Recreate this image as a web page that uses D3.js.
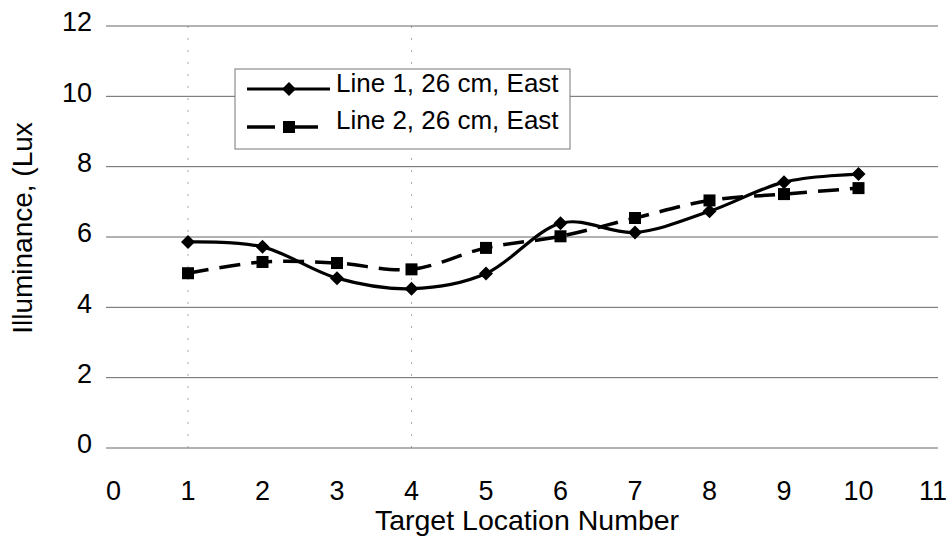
<!DOCTYPE html>
<html>
<head>
<meta charset="utf-8">
<script src="https://cdn.jsdelivr.net/npm/d3@7"></script>
<style>
  html, body { margin: 0; padding: 0; background: #fff; }
  svg { display: block; font-family: "Liberation Sans", Arial, sans-serif; }
</style>
</head>
<body>
<svg id="chart" width="948" height="552"></svg>
<script>
const targets = [1, 2, 3, 4, 5, 6, 7, 8, 9, 10];
const line1 = [5.86, 5.72, 4.83, 4.53, 4.96, 6.39, 6.13, 6.73, 7.56, 7.79];
const line2 = [4.97, 5.29, 5.26, 5.08, 5.69, 6.02, 6.54, 7.04, 7.22, 7.39];
const seriesNames = ["Line 1, 26 cm, East", "Line 2, 26 cm, East"];
const xTicks = [0, 1, 2, 3, 4, 5, 6, 7, 8, 9, 10, 11];
const yTicks = [0, 2, 4, 6, 8, 10, 12];
const faintVerticals = [1, 4];
const xTitle = "Target Location Number";
const yTitle = "Illuminance, (Lux";

const svg = d3.select("#chart");
const x = d3.scaleLinear().domain([0, 11]).range([113.5, 933]);
const y = d3.scaleLinear().domain([0, 12]).range([448, 26]);
const plotLeft = 106, plotRight = 938;

// faint vertical dotted lines
svg.append("g").selectAll("line").data(faintVerticals).join("line")
  .attr("x1", d => x(d)).attr("x2", d => x(d))
  .attr("y1", y(12)).attr("y2", y(0))
  .attr("stroke", "#aaa").attr("stroke-width", 1)
  .attr("stroke-dasharray", "2,10");

// horizontal gridlines
svg.append("g").selectAll("line").data(yTicks).join("line")
  .attr("x1", plotLeft).attr("x2", plotRight)
  .attr("y1", d => y(d)).attr("y2", d => y(d))
  .attr("stroke", "#666").attr("stroke-width", 1);

// y tick labels
svg.append("g").selectAll("text").data(yTicks).join("text")
  .attr("x", 92).attr("y", d => y(d) - 4)
  .attr("dy", "0.35em").attr("text-anchor", "end")
  .attr("font-size", 27).attr("fill", "#000")
  .text(d => d);

// x tick labels
svg.append("g").selectAll("text").data(xTicks).join("text")
  .attr("x", d => x(d)).attr("y", 491)
  .attr("dy", "0.35em").attr("text-anchor", "middle")
  .attr("font-size", 27).attr("fill", "#000")
  .text(d => d);

// titles
svg.append("text").attr("x", 527).attr("y", 530)
  .attr("text-anchor", "middle").attr("font-size", 28.5).text(xTitle);
svg.append("text")
  .attr("transform", `translate(32,228) rotate(-90)`)
  .attr("text-anchor", "middle").attr("font-size", 28).text(yTitle);

const curve = d3.curveCardinal.tension(0);
const mk = vals => d3.line().curve(curve)
  .x((d, i) => x(targets[i])).y(d => y(d))(vals);

// Line 2 (dashed, squares)
svg.append("path").attr("d", mk(line2))
  .attr("fill", "none").attr("stroke", "#000").attr("stroke-width", 3.5)
  .attr("stroke-dasharray", "21,11");
// Line 1 (solid, diamonds)
svg.append("path").attr("d", mk(line1))
  .attr("fill", "none").attr("stroke", "#000").attr("stroke-width", 3.2);

const sq = 12, dm = 7;
svg.append("g").selectAll("rect").data(line2).join("rect")
  .attr("x", (d, i) => x(targets[i]) - sq / 2)
  .attr("y", d => y(d) - sq / 2)
  .attr("width", sq).attr("height", sq).attr("fill", "#000");
const diamond = (cx, cy) => `M${cx},${cy - dm}L${cx + dm},${cy}L${cx},${cy + dm}L${cx - dm},${cy}Z`;
svg.append("g").selectAll("path").data(line1).join("path")
  .attr("d", (d, i) => diamond(x(targets[i]), y(d))).attr("fill", "#000");

// legend
const lg = svg.append("g");
lg.append("rect").attr("x", 235).attr("y", 69).attr("width", 335).attr("height", 80)
  .attr("fill", "#fff").attr("stroke", "#777").attr("stroke-width", 1);
// entry 1
lg.append("line").attr("x1", 247).attr("x2", 330).attr("y1", 89).attr("y2", 89)
  .attr("stroke", "#000").attr("stroke-width", 3);
lg.append("path").attr("d", diamond(289, 89)).attr("fill", "#000");
lg.append("text").attr("x", 336).attr("y", 92).attr("font-size", 26).text(seriesNames[0]);
// entry 2
lg.append("line").attr("x1", 247).attr("x2", 318).attr("y1", 127).attr("y2", 127)
  .attr("stroke", "#000").attr("stroke-width", 3.5).attr("stroke-dasharray", "28,10,40");
lg.append("rect").attr("x", 283).attr("y", 121).attr("width", sq).attr("height", sq).attr("fill", "#000");
lg.append("text").attr("x", 336).attr("y", 129).attr("font-size", 26).text(seriesNames[1]);
</script>
</body>
</html>
